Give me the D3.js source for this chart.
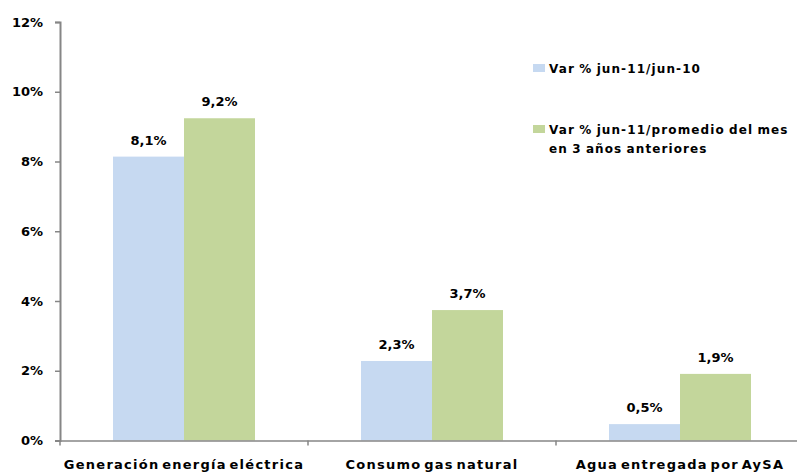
<!DOCTYPE html>
<html><head><meta charset="utf-8">
<script src="https://cdn.jsdelivr.net/npm/d3@7"></script>
<style>body{margin:0;background:#fff}svg{display:block}text{font-family:"DejaVu Sans",Verdana,sans-serif;font-weight:bold;fill:#000}</style>
</head><body><svg id="c" width="797" height="473"></svg>
<script>
const categories = ["Generación energía eléctrica","Consumo gas natural","Agua entregada por AySA"];
const seriesNames = ["Var % jun-11/jun-10","Var % jun-11/promedio del mes en 3 años anteriores"];
const seriesA = [8.14, 2.28, 0.47];
const seriesB = [9.24, 3.74, 1.91];
const yTicks = [0,2,4,6,8,10,12];
const colors = ["#c6d9f1","#c3d69b"];

const svg = d3.select("#c");
const mLeft = 60, mTop = 22, mBottom = 440.5;
const y = d3.scaleLinear().domain([0,12]).range([mBottom, mTop]);
const x0 = d3.scaleBand().domain(categories).range([mLeft, mLeft + 248*3]).padding(0);
const x1 = d3.scaleBand().domain([0,1]).range([53, 195]).padding(0);
const fmt = v => v.toFixed(1).replace(".", ",") + "%";

// y axis
const ya = svg.append("g").attr("transform",`translate(${mLeft},0)`)
  .call(d3.axisLeft(y).tickValues(yTicks).tickSize(5).tickFormat(d => d + "%"));
ya.select(".domain").attr("stroke","#868686").attr("stroke-width",2);
ya.selectAll(".tick line").attr("stroke","#868686").attr("stroke-width",1.5);
ya.selectAll(".tick text").attr("x",-17).style("font-size","13px").style("font-family","DejaVu Sans, sans-serif").style("font-weight","bold").attr("fill","#000");

// bars
const data = categories.map((c,i)=>({c, vals:[seriesA[i], seriesB[i]]}));
const g = svg.append("g");
data.forEach(d=>{
  d.vals.forEach((v,j)=>{
    g.append("rect").attr("x", x0(d.c)+x1(j)).attr("width", x1.bandwidth())
      .attr("y", y(v)).attr("height", y(0)-y(v)).attr("fill", colors[j]);
    g.append("text").attr("x", x0(d.c)+x1(j)+x1.bandwidth()/2).attr("y", y(v)-12)
      .attr("text-anchor","middle").style("font-size","13px").text(fmt(v));
  });
});

// x axis
const xa = svg.append("g").attr("transform",`translate(0,${mBottom})`)
  .call(d3.axisBottom(x0).tickSize(0).tickFormat(""));
xa.select(".domain").attr("stroke","#868686").attr("stroke-width",1.5);
x0.domain().forEach((c,i)=>{
  const xx = x0(c) + x0.bandwidth();
  svg.append("line").attr("x1",xx).attr("x2",xx).attr("y1",mBottom).attr("y2",mBottom+5).attr("stroke","#868686").attr("stroke-width",1.5);
  svg.append("text").attr("x", x0(c)+x0.bandwidth()/2).attr("y", 469).attr("text-anchor","middle")
    .style("font-size","13px").style("letter-spacing","1.25px").style("word-spacing","-3px").text(c);
});
svg.append("line").attr("x1",mLeft).attr("x2",mLeft).attr("y1",mBottom).attr("y2",mBottom+5).attr("stroke","#868686").attr("stroke-width",1.5);

// legend
const leg = svg.append("g");
const ls = t => t.style("font-size","12px").style("letter-spacing","1.1px").style("word-spacing","-1px");
leg.append("rect").attr("x",533).attr("y",64).attr("width",12).attr("height",8).attr("fill",colors[0]);
ls(leg.append("text").attr("x",549).attr("y",73)).text(seriesNames[0]);
leg.append("rect").attr("x",533).attr("y",125).attr("width",12).attr("height",8).attr("fill",colors[1]);
ls(leg.append("text").attr("x",549).attr("y",134)).text("Var % jun-11/promedio del mes");
ls(leg.append("text").attr("x",549).attr("y",153)).text("en 3 años anteriores");
</script></body></html>
